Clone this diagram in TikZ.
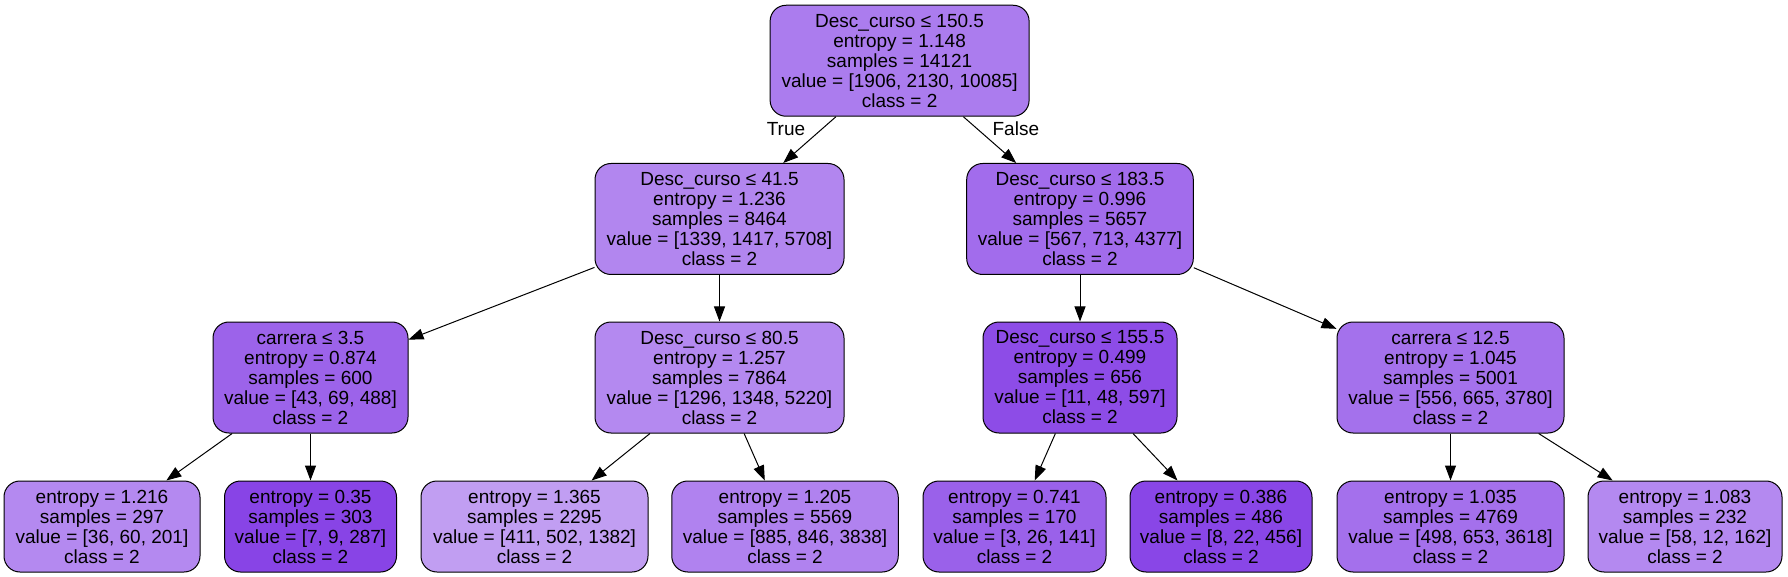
\documentclass[tikz,border=0pt]{standalone}
\usepackage{fontspec}
\setmainfont{Liberation Sans}
\usetikzlibrary{arrows.meta}
\definecolor{c0}{RGB}{171,124,238}
\definecolor{c1}{RGB}{178,134,239}
\definecolor{c2}{RGB}{162,108,236}
\definecolor{c3}{RGB}{156,99,234}
\definecolor{c4}{RGB}{180,137,240}
\definecolor{c5}{RGB}{141,76,231}
\definecolor{c6}{RGB}{164,113,236}
\definecolor{c7}{RGB}{180,137,240}
\definecolor{c8}{RGB}{136,68,230}
\definecolor{c9}{RGB}{193,158,242}
\definecolor{c10}{RGB}{176,130,239}
\definecolor{c11}{RGB}{154,97,234}
\definecolor{c12}{RGB}{137,70,231}
\definecolor{c13}{RGB}{164,112,236}
\definecolor{c14}{RGB}{180,137,240}
\begin{document}
\begin{tikzpicture}[x=0.5pt,y=-0.5pt,
    box/.style={draw=black,line width=0.5pt,rounded corners=8pt,inner sep=0pt,align=center,font=\fontsize{9.5}{10}\selectfont},
    split/.style={box,minimum height=55.5pt},
    leaf/.style={box,minimum height=45.5pt},
    edge/.style={-{Triangle[length=7.5pt,width=5.5pt]},line width=0.5pt},
    lbl/.style={inner sep=0pt,font=\fontsize{9.5}{10}\selectfont}]
        \useasboundingbox (0,0) rectangle (1788,577);
        \node[split,fill=c0,minimum width=129.5pt] (n0) at (899.6,60.75) {Desc\_curso ≤ 150.5\\entropy = 1.148\\samples = 14121\\value = [1906, 2130, 10085]\\class = 2};
        \node[split,fill=c1,minimum width=124.5pt] (n1) at (719.5,219) {Desc\_curso ≤ 41.5\\entropy = 1.236\\samples = 8464\\value = [1339, 1417, 5708]\\class = 2};
        \node[split,fill=c2,minimum width=113.3pt] (n2) at (1080,219) {Desc\_curso ≤ 183.5\\entropy = 0.996\\samples = 5657\\value = [567, 713, 4377]\\class = 2};
        \node[split,fill=c3,minimum width=97.5pt] (n3) at (310.5,377.5) {carrera ≤ 3.5\\entropy = 0.874\\samples = 600\\value = [43, 69, 488]\\class = 2};
        \node[split,fill=c4,minimum width=124.5pt] (n4) at (719.5,377.5) {Desc\_curso ≤ 80.5\\entropy = 1.257\\samples = 7864\\value = [1296, 1348, 5220]\\class = 2};
        \node[split,fill=c5,minimum width=97pt] (n5) at (1080,377.5) {Desc\_curso ≤ 155.5\\entropy = 0.499\\samples = 656\\value = [11, 48, 597]\\class = 2};
        \node[split,fill=c6,minimum width=113.5pt] (n6) at (1450.5,377.5) {carrera ≤ 12.5\\entropy = 1.045\\samples = 5001\\value = [556, 665, 3780]\\class = 2};
        \node[leaf,fill=c7,minimum width=98pt] (n7) at (102,526.5) {entropy = 1.216\\samples = 297\\value = [36, 60, 201]\\class = 2};
        \node[leaf,fill=c8,minimum width=86pt] (n8) at (310.5,526.5) {entropy = 0.35\\samples = 303\\value = [7, 9, 287]\\class = 2};
        \node[leaf,fill=c9,minimum width=113.5pt] (n9) at (534.5,526.5) {entropy = 1.365\\samples = 2295\\value = [411, 502, 1382]\\class = 2};
        \node[leaf,fill=c10,minimum width=113.25pt] (n10) at (785,526.5) {entropy = 1.205\\samples = 5569\\value = [885, 846, 3838]\\class = 2};
        \node[leaf,fill=c11,minimum width=91.5pt] (n11) at (1014.5,526.5) {entropy = 0.741\\samples = 170\\value = [3, 26, 141]\\class = 2};
        \node[leaf,fill=c12,minimum width=91pt] (n12) at (1221,526.5) {entropy = 0.386\\samples = 486\\value = [8, 22, 456]\\class = 2};
        \node[leaf,fill=c13,minimum width=113.5pt] (n13) at (1450.5,526.5) {entropy = 1.035\\samples = 4769\\value = [498, 653, 3618]\\class = 2};
        \node[leaf,fill=c14,minimum width=97pt] (n14) at (1685,526.5) {entropy = 1.083\\samples = 232\\value = [58, 12, 162]\\class = 2};
        \draw[edge] (n0) -- (n1) node[lbl,pos=0.27,left=8pt] {True};
        \draw[edge] (n0) -- (n2) node[lbl,pos=0.26,right=7.5pt] {False};
        \draw[edge] (n1) -- (n3);
        \draw[edge] (n1) -- (n4);
        \draw[edge] (n2) -- (n5);
        \draw[edge] (n2) -- (n6);
        \draw[edge] (n3) -- (n7);
        \draw[edge] (n3) -- (n8);
        \draw[edge] (n4) -- (n9);
        \draw[edge] (n4) -- (n10);
        \draw[edge] (n5) -- (n11);
        \draw[edge] (n5) -- (n12);
        \draw[edge] (n6) -- (n13);
        \draw[edge] (n6) -- (n14);
\end{tikzpicture}
\end{document}
